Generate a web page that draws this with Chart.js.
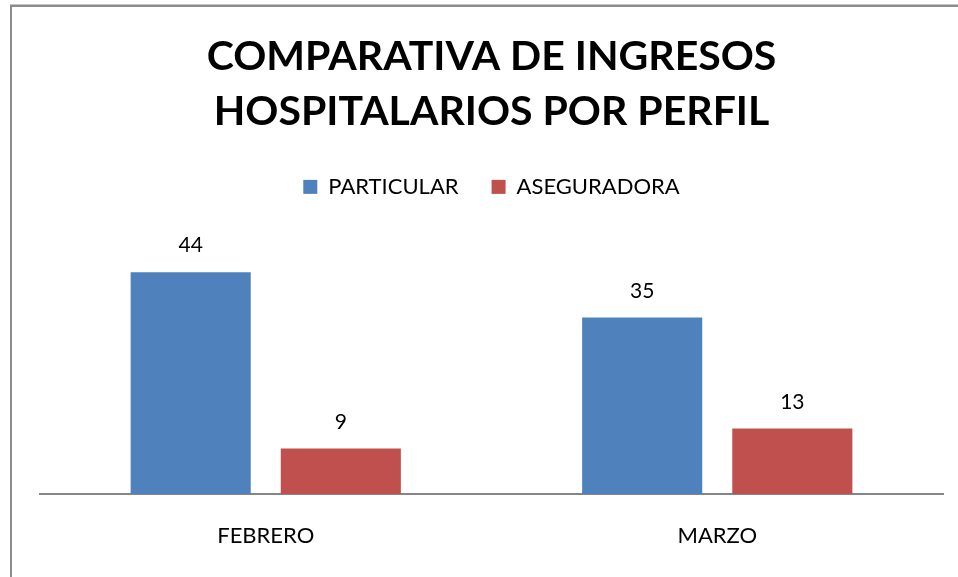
<!DOCTYPE html>
<html>
<head>
<meta charset="utf-8">
<script src="https://cdn.jsdelivr.net/npm/chart.js@4/dist/chart.umd.min.js"></script>
<style>
html,body{margin:0;padding:0;background:#fff;}
#wrap{position:relative;width:958px;height:577px;}
</style>
</head>
<body>
<div id="wrap"><canvas id="c" width="958" height="577"></canvas></div>
<script>
const categories = ["FEBRERO", "MARZO"];
const particular = [44, 35];
const aseguradora = [9, 13];
const seriesNames = ["PARTICULAR", "ASEGURADORA"];
const titleLines = ["COMPARATIVA DE INGRESOS", "HOSPITALARIOS POR PERFIL"];

const FONT = "Lato, 'Open Sans', sans-serif";

const frame = {
  id: 'frame',
  beforeDraw(chart) {
    const ctx = chart.ctx;
    ctx.save();
    ctx.fillStyle = '#ffffff';
    ctx.fillRect(0, 0, chart.width, chart.height);
    ctx.fillStyle = '#c4c4c4';
    ctx.fillRect(10, 4, chart.width - 10, 1);
    ctx.fillStyle = '#8c8c8c';
    ctx.fillRect(10, 5, chart.width - 10, 2);
    ctx.fillRect(10, 5, 2, chart.height - 5);
    ctx.restore();
  }
};

const valueLabels = {
  id: 'valueLabels',
  afterDatasetsDraw(chart) {
    const ctx = chart.ctx;
    ctx.save();
    ctx.font = "21px " + FONT;
    ctx.fillStyle = '#000';
    ctx.textAlign = 'center';
    ctx.textBaseline = 'bottom';
    chart.data.datasets.forEach((ds, i) => {
      chart.getDatasetMeta(i).data.forEach((bar, j) => {
        ctx.fillText(String(ds.data[j]), bar.x, bar.y - 16);
      });
    });
    ctx.restore();
  }
};

new Chart(document.getElementById('c'), {
  type: 'bar',
  data: {
    labels: categories,
    datasets: [
      { label: seriesNames[0], data: particular, backgroundColor: '#4F81BD',
        categoryPercentage: 0.665, barPercentage: 0.8 },
      { label: seriesNames[1], data: aseguradora, backgroundColor: '#C0504D',
        categoryPercentage: 0.665, barPercentage: 0.8 }
    ]
  },
  options: {
    responsive: false,
    animation: false,
    devicePixelRatio: 1,
    layout: { padding: { top: 29, left: 40, right: 15, bottom: 20 } },
    plugins: {
      tooltip: { enabled: false },
      title: {
        display: true,
        text: titleLines,
        color: '#000',
        font: { family: FONT, size: 41, weight: 'bold', lineHeight: 1.34 },
        padding: { top: 0, bottom: 4 }
      },
      subtitle: {
        display: true,
        text: '',
        weight: 500,
        font: { size: 10, lineHeight: 1 },
        padding: { top: 0, bottom: 24 }
      },
      legend: {
        display: true,
        position: 'top',
        labels: {
          color: '#000',
          font: { family: FONT, size: 22 },
          boxWidth: 14,
          boxHeight: 14,
          padding: 33
        }
      }
    },
    scales: {
      x: {
        grid: { display: false, drawTicks: false },
        border: { display: true, color: '#868686', width: 2 },
        ticks: { color: '#000', font: { family: FONT, size: 22 }, padding: 29 },
        afterFit(scale) { scale.height = 63; }
      },
      y: {
        display: false,
        min: 0,
        max: 50
      }
    }
  },
  plugins: [frame, valueLabels]
});
</script>
</body>
</html>
